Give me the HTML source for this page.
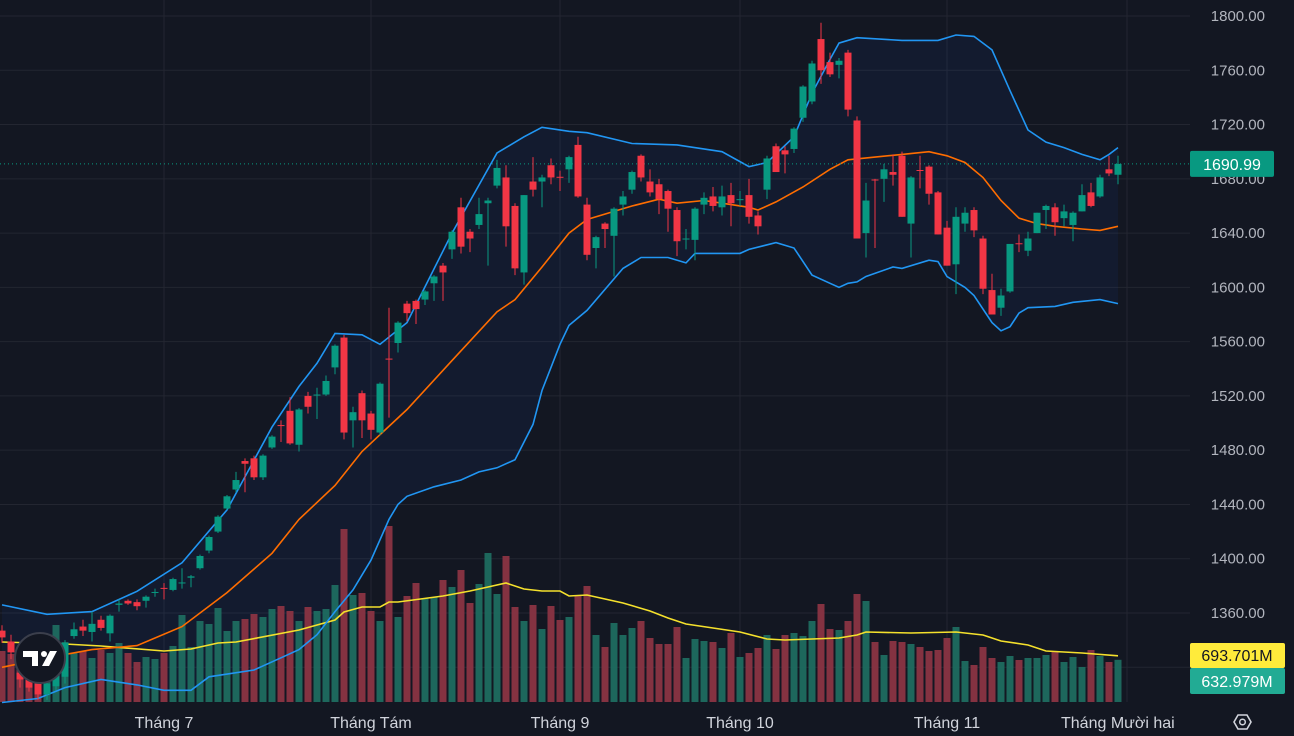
<!DOCTYPE html>
<html><head><meta charset="utf-8">
<style>
html,body{margin:0;padding:0;background:#131722;overflow:hidden}
svg{display:block}
text{font-family:"Liberation Sans",sans-serif}
</style></head>
<body>
<svg id="chart" width="1294" height="736" xmlns="http://www.w3.org/2000/svg">
<rect x="0" y="0" width="1294" height="736" fill="#131722"/>
<g id="grid"></g>
<g id="bands"></g>
<g id="vol"></g>
<g id="lines"></g>
<g id="candles"></g>
<g id="time"></g>
<g id="axis"></g>
<g>
<circle cx="40" cy="658" r="25" fill="#131722" stroke="#3b3f4c" stroke-width="2"/>
<rect x="23" y="651" width="15" height="6" fill="#ffffff"/>
<rect x="32" y="651" width="6" height="15" fill="#ffffff"/>
<circle cx="44" cy="654" r="3" fill="#ffffff"/>
<polygon points="50,651 57,651 49,666 42,666" fill="#ffffff"/>
</g>
</svg>
<script>
const opens=[1347,1339,1316,1312,1308,1300,1306,1313,1343,1350,1346,1355,1345,1366,1369,1368,1369,1375,1378.5,1377,1382,1386,1393,1406,1420,1437,1451,1472,1474,1460,1482,1498.5,1509,1484,1520,1520.5,1521,1541,1563,1502,1522,1507,1493,1547.5,1559,1588,1590,1591,1603,1616,1628,1659,1641,1646,1662,1675,1681,1660,1611,1678,1678,1690,1681.5,1687,1705,1661,1629,1647,1638,1661,1672,1697,1678,1676,1671,1657,1635.5,1635,1661,1667,1659,1668,1664.5,1668,1653,1672,1704,1701,1702,1725,1737,1783,1766,1764,1773,1723,1640,1679.5,1680,1685,1697,1647,1686.5,1689,1670,1644,1617,1647,1657,1636,1598,1585,1597,1632.5,1627,1640,1657,1659,1651,1646,1656,1670,1667,1687,1683];
const highs=[1351,1344,1320,1316,1312,1310,1318,1340,1353,1355,1361,1358,1359,1370,1370,1370,1373,1378,1382,1386,1393,1388,1403,1417,1432,1447,1464,1474,1476,1477,1491,1502,1519,1511,1523,1526,1535,1558,1565,1512,1524,1509,1530,1585,1575,1590,1591,1598,1609,1618,1642,1666,1643,1666,1666,1694,1690,1662,1668,1696,1683,1695,1686,1697,1711,1666,1638,1648,1659,1671,1686,1698,1687,1680,1672,1659,1643,1659,1670,1674,1675,1677,1671,1680,1656,1697,1706,1704,1718,1749,1767,1795,1773,1769,1775,1726,1677,1680,1691,1698,1700,1682,1697,1690,1671,1649,1659,1659,1659,1638,1610,1599,1632,1639,1641,1655,1661,1662,1661,1656,1676,1677,1683,1697,1697];
const lows=[1338,1326,1305,1302,1296,1296,1303,1308,1341,1343,1339,1347,1339,1361,1366,1362,1364,1372,1370,1376,1378,1379,1392,1404,1419,1436,1449,1449,1458,1458,1481,1486,1484,1479,1507,1503,1520,1536,1488,1482,1489,1488,1491,1504,1552,1575,1573,1587,1590,1590,1621,1625,1626,1643,1616,1673,1630,1609,1602,1667,1659,1676,1671,1677,1666,1620,1614,1629,1608,1653,1669,1678,1667,1654,1641,1623,1628,1620,1654,1656,1653,1645,1660,1647,1639,1665,1685,1684,1699,1722,1735,1750,1755,1754,1726,1636,1622,1629,1663,1675,1652,1622,1673,1661,1639,1616,1595,1641,1637,1595,1580,1579,1596,1626,1623,1640,1643,1638,1645,1634,1656,1659,1666,1682,1676];
const closes=[1342,1331,1311,1305,1300,1308,1315,1338,1348,1347,1352,1349,1358,1367,1367,1365,1372,1375.5,1378,1385,1382.5,1387,1402,1416,1431,1446,1458,1470,1460,1476,1490,1498,1485,1510,1512,1521,1531,1557,1493,1508,1502,1495,1529,1547,1574,1581,1584,1597,1608,1611,1641,1630,1636,1654,1664,1688,1645,1614,1668,1672,1681,1681,1681,1696,1667,1624,1637,1643,1658,1667,1685,1681,1670,1665,1658,1634,1636,1658,1666,1660,1667,1662,1665,1652,1645,1695,1685,1698,1717,1748,1765,1760,1757,1767,1731,1636,1664,1679,1687,1683,1652,1681,1686,1669,1639,1616,1652,1655,1642,1599,1580,1594,1632,1632,1636,1655,1660,1648,1656,1655,1668,1660,1681,1684,1690.99];
const volumes=[765,720,675,600,630,570,1155,900,735,765,660,780,735,885,735,600,675,645,735,840,1305,825,1215,1170,1410,1065,1215,1245,1320,1275,1395,1440,1365,1215,1425,1365,1395,1755,2595,1605,1635,1365,1215,2640,1275,1590,1785,1560,1575,1830,1725,1980,1485,1770,2235,1620,2190,1425,1215,1455,1095,1440,1230,1275,1605,1740,1005,825,1185,1005,1110,1215,960,870,870,1125,660,945,915,900,810,1035,675,735,810,1005,795,1005,1035,990,1215,1470,1095,1080,1215,1620,1515,900,705,915,900,870,825,765,780,960,1125,615,555,825,660,600,690,630,660,660,705,765,600,675,525,780,690,600,633];
const volMaIdx=[0,7,11,18,21,24,26,33,37,38,40,42,43,44,49,52,54,56,58,60,62,63,65,67,69,72,74,76,79,82,85,87,93,95,96,101,106,109,111,114,116,120,124];
const volMaVal=[900,870,840,765,795,885,900,1080,1230,1350,1425,1425,1500,1500,1590,1665,1725,1785,1695,1665,1665,1590,1605,1545,1485,1365,1260,1170,1110,1050,945,930,960,1005,1050,1035,1050,1005,915,855,765,735,693.7];
const upperIdx=[0,5,10,15,20,25,30,33,35,37,40,42,45,50,55,58,60,63,65,70,75,80,83,85,88,90,92,93,95,100,104,106,108,110,112,114,116,118,120,122,123,124];
const upperVal=[1366,1359,1361,1376,1397,1436,1497,1527,1544,1566,1565,1558,1574,1640,1699,1711,1718,1715,1714,1706,1705,1700,1689,1692,1711,1743,1768,1780,1784,1782,1782,1786,1785,1775,1745,1716,1707,1703,1698,1694,1698,1703];
const midIdx=[0,5,10,15,20,25,30,33,37,40,45,50,55,57,60,63,65,68,70,73,75,78,80,83,84,86,89,92,94,97,100,103,105,107,109,111,113,115,117,120,122,124];
const midVal=[1320,1327,1333,1336,1350,1375,1404,1429,1454,1479,1510,1546,1582,1591,1615,1640,1650,1656,1660,1665,1662,1664,1662,1659,1657,1663,1674,1687,1694,1696,1698,1700,1697,1692,1681,1664,1651,1647,1645,1643,1642,1645];
const lowerIdx=[0,4,7,11,15,18,21,23,28,31,33,35,37,39,41,43,44,45,48,51,53,55,57,59,60,62,63,65,69,71,74,76,77,82,83,86,88,90,92,93,94,95,96,99,100,103,104,105,107,108,110,111,112,113,114,117,119,122,124];
const lowerVal=[1294,1297,1305,1311,1307,1303,1303,1313,1318,1327,1333,1344,1361,1377,1399,1429,1440,1446,1453,1458,1464,1467,1473,1499,1524,1558,1572,1583,1614,1622,1622,1618,1625,1625,1628,1633,1629,1609,1603,1600,1603,1604,1608,1615,1614,1620,1619,1608,1600,1594,1574,1568,1571,1581,1585,1586,1589,1591,1588];
const priceTicks=[1800,1760,1720,1680,1640,1600,1560,1520,1480,1440,1400,1360,1320];
const monthLabels=["Tháng 7","Tháng Tám","Tháng 9","Tháng 10","Tháng 11","Tháng Mười hai"];
const monthIdx=[18,41,62,82,105,125];
const lastPrice=1690.99;

const NS="http://www.w3.org/2000/svg";
const xS=i=>2+9*i;
const yS=p=>16+(1800-p)*1.3568;
const vS=v=>702-v/15;
function mk(tag,attrs,parent){const e=document.createElementNS(NS,tag);for(const k in attrs)e.setAttribute(k,attrs[k]);parent.appendChild(e);return e;}
const G=id=>document.getElementById(id);

priceTicks.forEach(p=>{const l=mk('line',{x1:0,x2:1190,y1:yS(p),y2:yS(p),stroke:'#232631','stroke-width':1},G('grid'));

});
monthIdx.forEach(i=>{const x=i===125?1127:xS(i);const l=mk('line',{x1:x,x2:x,y1:0,y2:702,stroke:'#232631','stroke-width':1},G('grid'));

});

function pts(idx,val,f){return idx.map((i,k)=>xS(i)+','+f(val[k]).toFixed(1));}
const fillPts=pts(upperIdx,upperVal,yS).concat(pts(lowerIdx,lowerVal,yS).reverse());
const bf=mk('polygon',{points:fillPts.join(' '),fill:'#2962ff','fill-opacity':0.06},G('bands'));



volumes.forEach((v,i)=>{const up=closes[i]>=opens[i];const r=mk('rect',{x:xS(i)-3.5,y:vS(v),width:7,height:702-vS(v),fill:up?'#1e6b60':'#8a3443','fill-opacity':0.95},G('vol'));

});
const vm=mk('polyline',{points:pts(volMaIdx,volMaVal,vS).join(' '),fill:'none',stroke:'#f5e12c','stroke-width':1.6},G('lines'));



const ul=mk('polyline',{points:pts(upperIdx,upperVal,yS).join(' '),fill:'none',stroke:'#2196f3','stroke-width':1.6},G('lines'));


const ml=mk('polyline',{points:pts(midIdx,midVal,yS).join(' '),fill:'none',stroke:'#ff6d00','stroke-width':1.6},G('lines'));


const ll=mk('polyline',{points:pts(lowerIdx,lowerVal,yS).join(' '),fill:'none',stroke:'#2196f3','stroke-width':1.6},G('lines'));



const dl=mk('line',{x1:0,x2:1190,y1:yS(lastPrice),y2:yS(lastPrice),stroke:'#089981','stroke-width':1,'stroke-dasharray':'1 3'},G('lines'));



opens.forEach((o,i)=>{const c=closes[i];const up=c>=o;const col=up?'#089981':'#f23645';const x=xS(i);
const g=mk('g',{},G('candles'));


mk('line',{x1:x,x2:x,y1:yS(highs[i]),y2:yS(lows[i]),stroke:col,'stroke-width':1},g);
const t=yS(Math.max(o,c)),b=yS(Math.min(o,c));
mk('rect',{x:x-3.5,y:t,width:7,height:Math.max(1,b-t),fill:col},g);});

monthLabels.forEach((m,k)=>{const i=monthIdx[k];const last=i===125;const x=last?1061:xS(i);const t=mk('text',{x:x,y:728,'text-anchor':last?'start':'middle','font-size':16,fill:'#d1d4dc'},G('time'));t.textContent=m;

});

mk('rect',{x:1190,y:0,width:104,height:736,fill:'#131722'},G('axis'));
priceTicks.forEach(p=>{const t=mk('text',{x:1265,y:yS(p)+5,'text-anchor':'end','font-size':15,fill:'#b2b5be'},G('axis'));t.textContent=p.toFixed(2);

});
const pb=mk('g',{},G('axis'));


mk('rect',{x:1190,y:yS(lastPrice)-13,width:84,height:26,rx:2,fill:'#089981'},pb);
const pt=mk('text',{x:1232,y:yS(lastPrice)+6,'text-anchor':'middle','font-size':16,fill:'#ffffff'},pb);pt.textContent=lastPrice.toFixed(2);
const vb=mk('g',{},G('axis'));


mk('rect',{x:1190,y:643,width:95,height:25,rx:2,fill:'#ffeb3b'},vb);
const vt=mk('text',{x:1237,y:661,'text-anchor':'middle','font-size':16,fill:'#131722'},vb);vt.textContent='693.701M';
const vb2=mk('g',{},G('axis'));


mk('rect',{x:1190,y:668,width:95,height:26,rx:2,fill:'#22ab94'},vb2);
const vt2=mk('text',{x:1237,y:687,'text-anchor':'middle','font-size':16,fill:'#ffffff'},vb2);vt2.textContent='632.979M';
const gear=mk('polygon',{points:'1234,722 1238,715 1247,715 1251,722 1247,729 1238,729',fill:'none',stroke:'#d1d4dc','stroke-width':1.6},G('axis'));


mk('circle',{cx:1242.5,cy:722,r:2.8,fill:'none',stroke:'#d1d4dc','stroke-width':1.5},G('axis'));
</script>
</body></html>
